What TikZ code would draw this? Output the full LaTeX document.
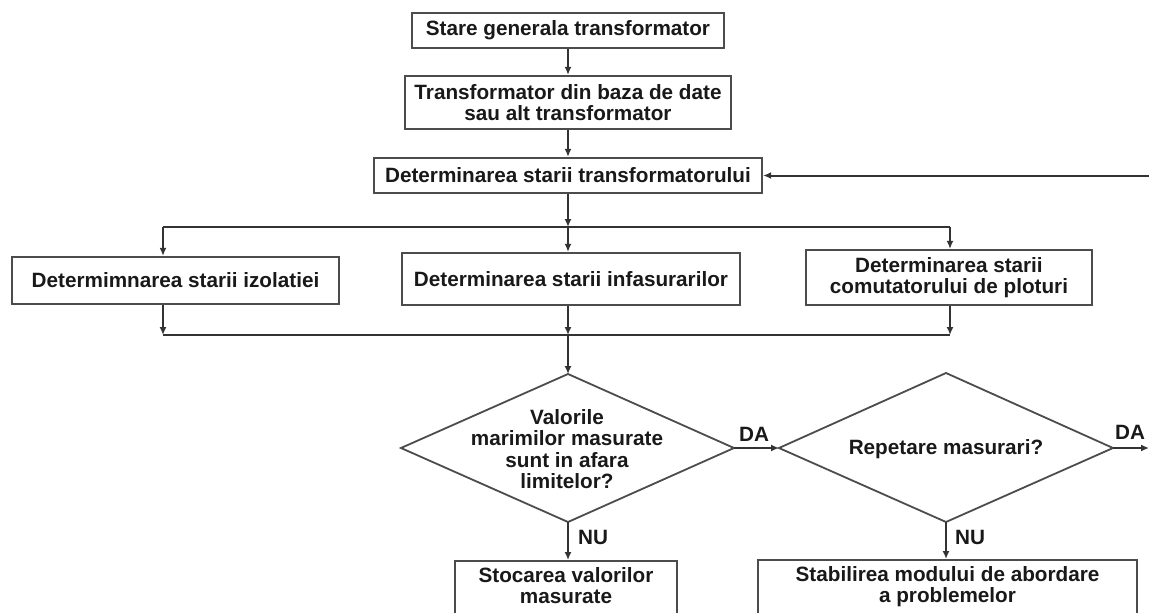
\documentclass[tikz,border=0pt]{standalone}
\usepackage{fontspec}
\setmainfont{Liberation Sans}
\usetikzlibrary{arrows.meta}
\begin{document}
\begin{tikzpicture}[x=1pt,y=-1pt,
  every node/.style={font=\fontsize{20.7}{21.5}\selectfont\bfseries, text=black!90},
  ln/.style={draw=black!80, line width=2pt},
  arr/.style={ln, -{Latex[length=8pt,width=7pt]}},
  box/.style={draw=black!70, line width=2.2pt, rectangle, align=center, inner sep=0pt, fill=white},
  dia/.style={draw=black!70, line width=1.8pt, line join=miter},
  lbl/.style={inner sep=0pt}
]
\useasboundingbox (0,0) rectangle (1149,613);
\clip (0,0) rectangle (1149,613);
\fill[white] (0,0) rectangle (1149,613);

% boxes
\node[box, minimum width=312pt, minimum height=35pt] (b1) at (568,30.5) {Stare generala transformator};
\node[box, minimum width=326pt, minimum height=53pt] (b2) at (568,102.5) {Transformator din baza de date\\sau alt transformator};
\node[box, minimum width=388pt, minimum height=35pt] (b3) at (568,175.5) {Determinarea starii transformatorului};
\node[box, minimum width=327pt, minimum height=47pt] (bl) at (175.5,280.5) {Determimnarea starii izolatiei};
\node[box, minimum width=338pt, minimum height=52pt] (bm) at (571,279) {Determinarea starii infasurarilor};
\node[box, minimum width=286pt, minimum height=55pt] (br) at (949,277.5) {Determinarea starii\\comutatorului de ploturi};

% junction coordinates
\coordinate (jt) at (568,227);
\coordinate (jl) at (163,227);
\coordinate (jr) at (950,227);
\coordinate (kb) at (568,335);
\coordinate (kl) at (163,335);
\coordinate (kr) at (950,335);
\coordinate (fb) at (1149,175.5);

% diamonds
\coordinate (d1t) at (568,374);
\coordinate (d1r) at (734,448);
\coordinate (d1b) at (568,522);
\coordinate (d1l) at (401,448);
\coordinate (d2t) at (946,373);
\coordinate (d2r) at (1113,448);
\coordinate (d2b) at (946,522);
\coordinate (d2l) at (779,448);
\coordinate (out) at (1149,448);
\draw[dia] (d1t) -- (d1r) -- (d1b) -- (d1l) -- cycle;
\draw[dia] (d2t) -- (d2r) -- (d2b) -- (d2l) -- cycle;
\node[align=center, inner sep=0pt] (q1) at (567,449) {Valorile\\marimilor masurate\\sunt in afara\\limitelor?};
\node[inner sep=0pt] (q2) at (946,449) {Repetare masurari?};

% bottom boxes (cut by the page edge)
\node[box, anchor=north, minimum width=222pt, text depth=40pt, inner ysep=6pt] (s1) at (566,560) {Stocarea valorilor\\masurate};
\node[box, anchor=north, minimum width=379pt, text depth=40pt, inner ysep=6pt] (s2) at (947.5,559) {Stabilirea modului de abordare\\a problemelor};

% connectors
\draw[arr] (b1) -- (b2);
\draw[arr] (b2) -- (b3);
\draw[arr] (fb) -- (b3.east);
\draw[arr] (b3.south -| jt) -- (jt);
\draw[ln] (jl) -- (jr);
\draw[arr] (jl) -- (jl |- bl.north);
\draw[arr] (jt) -- (jt |- bm.north);
\draw[arr] (jr) -- (jr |- br.north);
\draw[arr] (kl |- bl.south) -- (kl);
\draw[arr] (kb |- bm.south) -- (kb);
\draw[arr] (kr |- br.south) -- (kr);
\draw[ln] (kl) -- (kr);
\draw[arr] (kb) -- (d1t);
\draw[arr] (d1r) -- (d2l);
\draw[arr] (d2r) -- (out);
\draw[arr] (d1b) -- (s1.north -| d1b);
\draw[arr] (d2b) -- (s2.north -| d2b);

% labels
\node[lbl] (da1) at (754,434) {DA};
\node[lbl] (da2) at (1130,432) {DA};
\node[lbl] (nu1) at (593,537) {NU};
\node[lbl] (nu2) at (970,537) {NU};
\end{tikzpicture}
\end{document}
